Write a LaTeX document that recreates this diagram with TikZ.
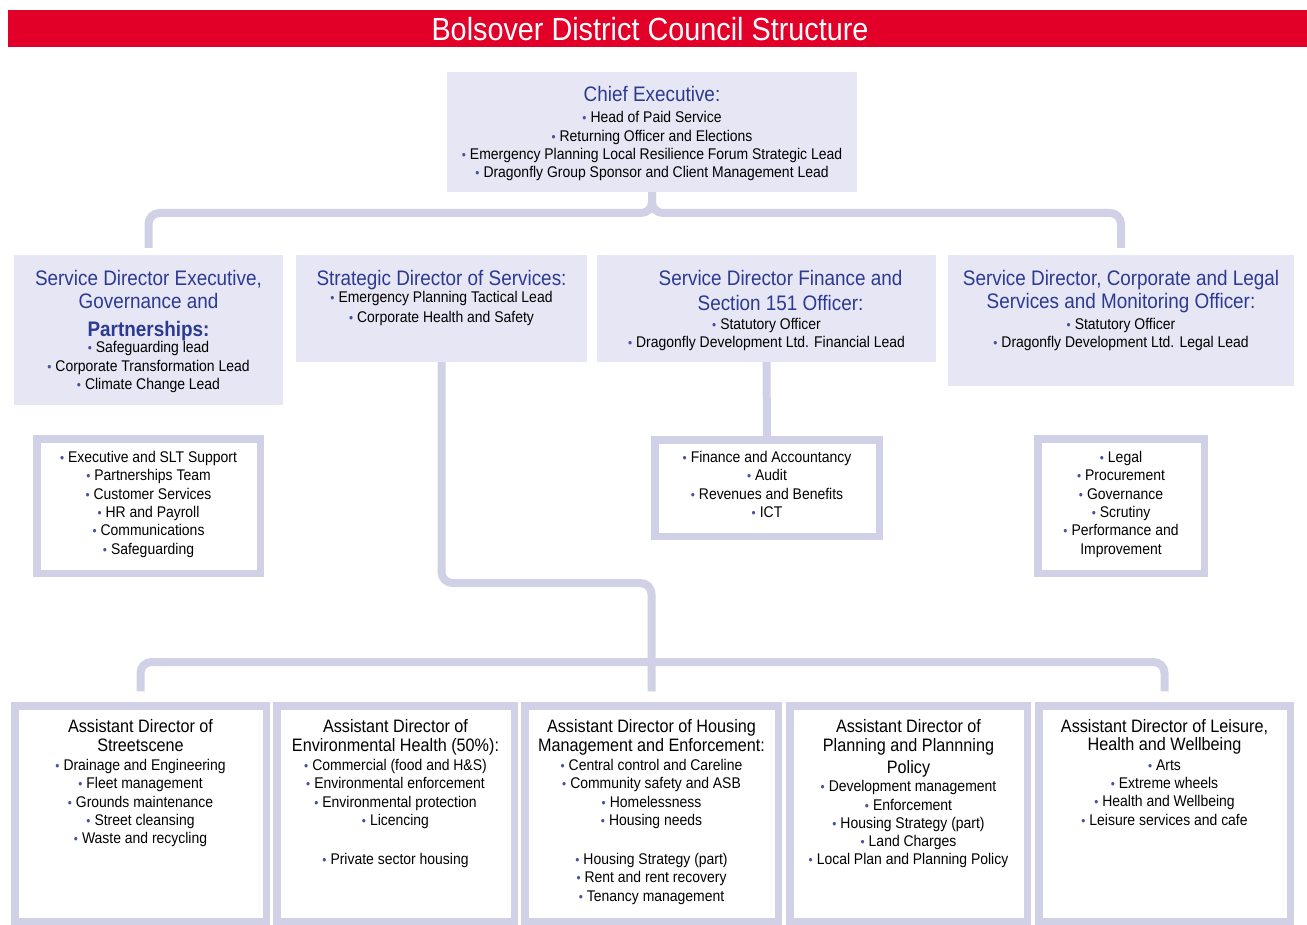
\documentclass[tikz,border=0pt]{standalone}
\usepackage{fontspec}
\setmainfont{Liberation Sans}[FakeStretch=0.9]
\usetikzlibrary{positioning}
\definecolor{barred}{RGB}{226,0,40}
\definecolor{boxfill}{RGB}{230,230,244}
\definecolor{frame}{RGB}{208,208,230}
\definecolor{headblue}{RGB}{44,58,146}
\definecolor{dotblue}{RGB}{70,80,160}
\newcommand{\bul}{{\fontsize{13}{13}\selectfont\textcolor{dotblue}{\textbullet}}\hspace{4pt}}
\tikzset{
  filled/.style={fill=boxfill, inner sep=0pt},
  framed/.style={draw=frame, line width=7.5pt, fill=white, inner sep=0pt},
  link/.style={draw=frame, line width=8pt, rounded corners=11pt},
  head/.style={align=center, inner sep=0pt, text=headblue, font=\fontsize{21}{23.5}\selectfont},
  items/.style={align=center, inner sep=0pt, font=\fontsize{15.5}{18.3}\selectfont},
  adhead/.style={align=center, inner sep=0pt, font=\fontsize{18}{18.4}\selectfont}
}

\begin{document}
\begin{tikzpicture}[x=1pt,y=-1pt]
  \useasboundingbox (0,0) rectangle (1307,925);
  % title bar
  \node[fill=barred, minimum width=1299pt, minimum height=37pt, inner sep=0pt] (bar) at (657.5,28.5) {};
  \node[text=white, font=\fontsize{32}{32}\selectfont] (bar-text) at (650,29) {Bolsover District Council Structure};
  % chief executive
  \node[filled, minimum width=410pt, minimum height=120pt] (ce) at (652,132) {};
  \node[head, below=14.7pt of ce.north] (ce-head) {Chief Executive:};
  \node[items, below=39.7pt of ce.north] (ce-list) {\bul Head of Paid Service\\
    \bul Returning Officer and Elections\\
    \bul Emergency Planning Local Resilience Forum Strategic Lead\\
    \bul Dragonfly Group Sponsor and Client Management Lead};
  % service directors
  \node[filled, minimum width=269pt, minimum height=150pt] (sda) at (148.5,330) {};
  \node[head, below=15pt of sda.north] (sda-head) {Service Director Executive,\\Governance and\\[4pt]\textbf{Partnerships:}};
  \node[items, below=86.7pt of sda.north] (sda-list) {\bul Safeguarding lead\\
    \bul Corporate Transformation Lead\\
    \bul Climate Change Lead};
  \node[filled, minimum width=291pt, minimum height=107pt] (sdb) at (441.5,308.5) {};
  \node[head, below=15pt of sdb.north] (sdb-head) {Strategic Director of Services:};
  \node[items, font=\fontsize{15.5}{20}\selectfont, below=36.7pt of sdb.north] (sdb-list) {\bul Emergency Planning Tactical Lead\\
    \bul Corporate Health and Safety};
  \node[filled, minimum width=339pt, minimum height=107pt] (sdc) at (766.5,308.5) {};
  \node[head, font=\fontsize{21}{25}\selectfont, below=15pt of sdc.north, xshift=14pt] (sdc-head) {Service Director Finance and\\Section 151 Officer:};
  \node[items, below=63.3pt of sdc.north] (sdc-list) {\bul Statutory Officer\\
    \bul Dragonfly Development Ltd. Financial Lead};
  \node[filled, minimum width=346pt, minimum height=131pt] (sdd) at (1121,320.5) {};
  \node[head, below=15pt of sdd.north] (sdd-head) {Service Director, Corporate and Legal\\Services and Monitoring Officer:};
  \node[items, below=63.3pt of sdd.north] (sdd-list) {\bul Statutory Officer\\
    \bul Dragonfly Development Ltd. Legal Lead};
  % teams under the service directors
  \node[framed, minimum width=223.5pt, minimum height=134.5pt] (sda-team) at (148.5,506) {};
  \node[items, below=16.25pt of sda-team.north] (sda-team-list) {\bul Executive and SLT Support\\
    \bul Partnerships Team\\
    \bul Customer Services\\
    \bul HR and Payroll\\
    \bul Communications\\
    \bul Safeguarding};
  \node[framed, minimum width=224.5pt, minimum height=96.5pt] (sdc-team) at (767,488) {};
  \node[items, below=15.25pt of sdc-team.north] (sdc-team-list) {\bul Finance and Accountancy\\
    \bul Audit\\
    \bul Revenues and Benefits\\
    \bul ICT};
  \node[framed, minimum width=166.5pt, minimum height=134.5pt] (sdd-team) at (1121,506) {};
  \node[items, below=16.25pt of sdd-team.north] (sdd-team-list) {\bul Legal\\
    \bul Procurement\\
    \bul Governance\\
    \bul Scrutiny\\
    \bul Performance and\\
    Improvement};
  % assistant directors
  \node[framed, minimum width=251.5pt, minimum height=215.5pt] (ad1) at (140.5,813.5) {};
  \node[adhead, below=17.6pt of ad1.north] (ad1-head) {Assistant Director of\\Streetscene};
  \node[items, below=57pt of ad1.north] (ad1-list) {\bul Drainage and Engineering\\
    \bul Fleet management\\
    \bul Grounds maintenance\\
    \bul Street cleansing\\
    \bul Waste and recycling};
  \node[framed, minimum width=237.5pt, minimum height=215.5pt] (ad2) at (395.5,813.5) {};
  \node[adhead, below=17.6pt of ad2.north] (ad2-head) {Assistant Director of\\Environmental Health (50\%):};
  \node[items, below=57pt of ad2.north] (ad2-list) {\bul Commercial (food and H\&S)\\
    \bul Environmental enforcement\\
    \bul Environmental protection\\
    \bul Licencing\\[20.7pt]
    \bul Private sector housing};
  \node[framed, minimum width=253.5pt, minimum height=215.5pt] (ad3) at (651.5,813.5) {};
  \node[adhead, below=17.6pt of ad3.north] (ad3-head) {Assistant Director of Housing\\Management and Enforcement:};
  \node[items, below=57pt of ad3.north] (ad3-list) {\bul Central control and Careline\\
    \bul Community safety and ASB\\
    \bul Homelessness\\
    \bul Housing needs\\[21pt]
    \bul Housing Strategy (part)\\
    \bul Rent and rent recovery\\
    \bul Tenancy management};
  \node[framed, minimum width=237.5pt, minimum height=215.5pt] (ad4) at (908.5,813.5) {};
  \node[adhead, below=17.6pt of ad4.north] (ad4-head) {Assistant Director of\\Planning and Plannning\\[3.6pt]Policy};
  \node[items, below=78.3pt of ad4.north] (ad4-list) {\bul Development management\\
    \bul Enforcement\\
    \bul Housing Strategy (part)\\
    \bul Land Charges\\
    \bul Local Plan and Planning Policy};
  \node[framed, minimum width=251.5pt, minimum height=215.5pt] (ad5) at (1164.5,813.5) {};
  \node[adhead, below=17pt of ad5.north] (ad5-head) {Assistant Director of Leisure,\\Health and Wellbeing};
  \node[items, below=57.5pt of ad5.north] (ad5-list) {\bul Arts\\
    \bul Extreme wheels\\
    \bul Health and Wellbeing\\
    \bul Leisure services and cafe};
  % connectors
  \coordinate (topbus) at (652,213);
  \coordinate (midbus) at (651.5,583);
  \coordinate (lowbus) at (651.5,662);
  \draw[link] (ce.south) -- (topbus) -| ([yshift=7pt]sda.north);
  \draw[link] (ce.south) -- (topbus) -| ([yshift=7pt]sdd.north);
  \draw[link] (sdc.south) -- (sdc-team.north);
  \draw[link] (sdb.south) |- (midbus) -- ([yshift=10.75pt]ad3.north);
  \draw[link] ([yshift=10.75pt]ad1.north) |- (lowbus) -| ([yshift=10.75pt]ad5.north);
\end{tikzpicture}
\end{document}
